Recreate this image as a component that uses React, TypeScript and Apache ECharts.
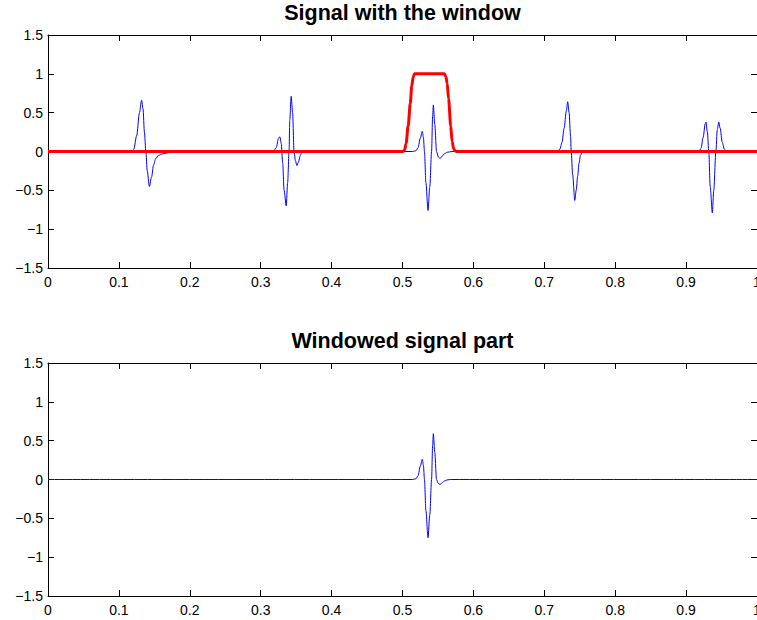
import React, { useEffect, useRef } from "react";
import * as echarts from "echarts";

// Signal (top panel): [t, amplitude]
const signalPoints: [number, number][] = [
  [0, 0],
  [0.118, 0], [0.121, 0.03], [0.125, 0.2], [0.129, 0.5], [0.132, 0.66], [0.134, 0.55], [0.136, 0.25],
  [0.138, 0], [0.14, -0.25], [0.143, -0.45], [0.146, -0.33], [0.149, -0.17], [0.152, -0.09],
  [0.156, -0.05], [0.162, -0.03], [0.17, -0.015], [0.18, -0.005], [0.19, 0],
  [0.318, 0], [0.322, 0.05], [0.325, 0.17], [0.327, 0.19], [0.329, 0.1], [0.331, -0.15], [0.333, -0.5],
  [0.336, -0.7], [0.338, -0.4], [0.34, 0], [0.341, 0.4], [0.343, 0.71], [0.345, 0.5], [0.347, 0],
  [0.349, -0.12], [0.351, -0.18], [0.353, -0.14], [0.356, -0.05], [0.358, 0],
  [0.514, 0], [0.519, 0.01], [0.522, 0.05], [0.525, 0.17], [0.528, 0.26], [0.5295, 0.18], [0.531, 0],
  [0.533, -0.4], [0.536, -0.76], [0.5385, -0.45], [0.541, 0], [0.5425, 0.45], [0.5435, 0.6],
  [0.5455, 0.35], [0.548, 0], [0.5505, -0.07], [0.553, -0.09], [0.556, -0.06], [0.559, -0.03],
  [0.563, -0.01], [0.57, 0],
  [0.718, 0], [0.722, 0.03], [0.725, 0.12], [0.728, 0.3], [0.731, 0.52], [0.733, 0.64], [0.735, 0.5],
  [0.737, 0.2], [0.738, 0], [0.74, -0.3], [0.743, -0.63], [0.745, -0.5], [0.747, -0.32], [0.749, -0.15],
  [0.751, -0.05], [0.754, 0],
  [0.918, 0], [0.921, 0.04], [0.924, 0.18], [0.927, 0.36], [0.928, 0.38], [0.93, 0.25], [0.932, 0],
  [0.934, -0.45], [0.937, -0.79], [0.939, -0.5], [0.942, 0], [0.944, 0.28], [0.946, 0.38], [0.948, 0.3],
  [0.951, 0.12], [0.954, 0.03], [0.957, 0],
  [1, 0],
];

// Window (red, top panel)
const windowPoints: [number, number][] = [
  [0, 0], [0.501, 0], [0.503, 0.02], [0.505, 0.1], [0.508, 0.33], [0.511, 0.62], [0.513, 0.84],
  [0.515, 0.96], [0.517, 1], [0.559, 1], [0.561, 0.97], [0.563, 0.88], [0.565, 0.68], [0.568, 0.33],
  [0.57, 0.13], [0.572, 0.04], [0.574, 0.01], [0.576, 0], [1, 0],
];

// Windowed signal part (bottom panel)
const windowedPoints: [number, number][] = [
  [0, 0],
  [0.514, 0], [0.519, 0.01], [0.522, 0.05], [0.525, 0.17], [0.528, 0.26], [0.5295, 0.18], [0.531, 0],
  [0.533, -0.4], [0.536, -0.75], [0.5385, -0.45], [0.541, 0], [0.5425, 0.44], [0.5435, 0.59],
  [0.5455, 0.35], [0.548, 0], [0.5505, -0.05], [0.553, -0.065], [0.556, -0.04], [0.559, -0.02],
  [0.563, -0.005], [0.568, 0],
  [1, 0],
];

const titles = ["Signal with the window", "Windowed signal part"];

const FONT = '"Liberation Sans", Arial, Helvetica, sans-serif';

export default function App() {
  const ref = useRef<HTMLDivElement>(null);
  useEffect(() => {
    document.body.style.margin = "0";
    const chart = echarts.init(ref.current!, undefined, { renderer: "svg" });
    const tick = { show: true, inside: true, length: 6, lineStyle: { color: "#000", width: 1 } };
    const line = { show: true, onZero: false, lineStyle: { color: "#000", width: 1 } };
    const xFmt = (v: number) => String(Math.round(v * 10) / 10);
    const yFmt = (v: number) => String(Math.round(v * 10) / 10).replace("-", "\u2212");
    const xAxes: any[] = [];
    const yAxes: any[] = [];
    [0, 1].forEach((g) => {
      xAxes.push({
        type: "value", gridIndex: g, min: 0, max: 1, interval: 0.1, position: "bottom",
        axisLine: line, axisTick: tick, splitLine: { show: false },
        axisLabel: { formatter: xFmt, color: "#000", fontSize: 14, fontFamily: FONT, margin: 7 },
      });
      xAxes.push({
        type: "value", gridIndex: g, min: 0, max: 1, interval: 0.1, position: "top",
        axisLine: line, axisTick: tick, splitLine: { show: false }, axisLabel: { show: false },
      });
      yAxes.push({
        type: "value", gridIndex: g, min: -1.5, max: 1.5, interval: 0.5, position: "left",
        axisLine: line, axisTick: tick, splitLine: { show: false },
        axisLabel: { formatter: yFmt, color: "#000", fontSize: 14, fontFamily: FONT, margin: 5 },
      });
      yAxes.push({
        type: "value", gridIndex: g, min: -1.5, max: 1.5, interval: 0.5, position: "right",
        axisLine: line, axisTick: tick, splitLine: { show: false }, axisLabel: { show: false },
      });
    });
    chart.setOption({
      animation: false,
      backgroundColor: "#fff",
      grid: [
        { left: 48, top: 35, width: 709, height: 233, outerBoundsMode: "none", containLabel: false },
        { left: 48, top: 363, width: 709, height: 233, outerBoundsMode: "none", containLabel: false },
      ],
      xAxis: xAxes,
      yAxis: yAxes,
      graphic: [
        {
          type: "text", x: 402.5, y: 13,
          style: { text: titles[0], textAlign: "center", textVerticalAlign: "middle", font: `bold 21.5px ${FONT}`, fill: "#000" },
        },
        {
          type: "text", x: 402.5, y: 341,
          style: { text: titles[1], textAlign: "center", textVerticalAlign: "middle", font: `bold 21.5px ${FONT}`, fill: "#000" },
        },
      ],
      series: [
        {
          type: "line", xAxisIndex: 0, yAxisIndex: 0, data: signalPoints, showSymbol: false,
          smooth: 0.3, smoothMonotone: "x", lineStyle: { color: "#0000ff", width: 1 }, itemStyle: { color: "#0000ff" },
        },
        {
          type: "line", xAxisIndex: 0, yAxisIndex: 0, data: windowPoints, showSymbol: false,
          smooth: 0.3, smoothMonotone: "x", lineStyle: { color: "#ff0000", width: 3 }, itemStyle: { color: "#ff0000" },
        },
        {
          type: "line", xAxisIndex: 2, yAxisIndex: 2, data: windowedPoints, showSymbol: false,
          smooth: 0.3, smoothMonotone: "x", lineStyle: { color: "#0000ff", width: 1 }, itemStyle: { color: "#0000ff" },
        },
      ],
    });
    return () => chart.dispose();
  }, []);
  return <div ref={ref} style={{ width: 757, height: 620 }} />;
}
